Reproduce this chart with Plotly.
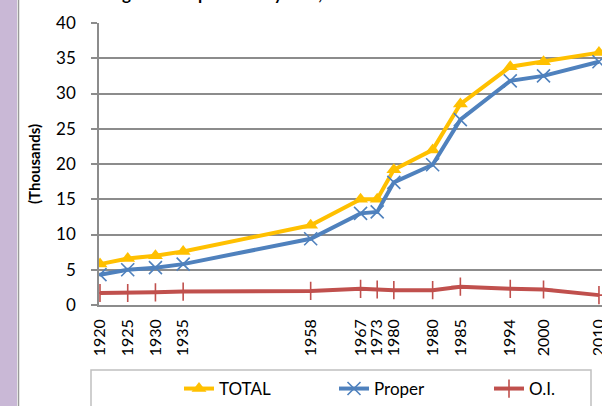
import plotly.graph_objects as go

# ---- data ----
x_years = [1920, 1925, 1930, 1935, 1958, 1967, 1970, 1973, 1980, 1985, 1994, 2000, 2010]
x_labels = ["1920", "1925", "1930", "1935", "1958", "1967", "1973", "1980", "1980", "1985", "1994", "2000", "2010"]
total = [5.8, 6.6, 7.0, 7.6, 11.3, 15.0, 15.0, 19.2, 22.0, 28.5, 33.8, 34.5, 35.8]
proper = [4.3, 5.0, 5.3, 5.8, 9.4, 13.0, 13.2, 17.4, 19.9, 26.3, 31.8, 32.5, 34.5]
oi = [1.7, 1.7, 1.8, 1.9, 2.0, 2.3, 2.2, 2.1, 2.1, 2.6, 2.3, 2.2, 1.4]
y_ticks = [0, 5, 10, 15, 20, 25, 30, 35, 40]

FONT = "Lato"
W, H = 602, 406
L, R, T, B = 99, 0, 23, 101
PW = W - L - R
PH = H - T - B


def px(xp):
    return (xp - L) / PW


def py(yp):
    return (H - B - yp) / PH


fig = go.Figure()
fig.add_trace(go.Scatter(
    x=x_years, y=total, name="TOTAL", mode="lines+markers",
    line=dict(color="#FFC000", width=4),
    marker=dict(symbol="triangle-up", size=13, color="#FFC000"),
))
fig.add_trace(go.Scatter(
    x=x_years, y=proper, name="Proper", mode="lines+markers",
    line=dict(color="#4F81BD", width=4),
    marker=dict(symbol="x-thin-open", size=13, color="#4F81BD",
                line=dict(width=1.6, color="#4F81BD")),
))
fig.add_trace(go.Scatter(
    x=x_years, y=oi, name="O.I.", mode="lines+markers",
    line=dict(color="#C0504D", width=4),
    marker=dict(symbol="cross-thin-open", size=13, color="#C0504D",
                line=dict(width=1.6, color="#C0504D")),
))

scale = 5.544  # px per year
x0 = 1920 - 1 / scale
x1 = x0 + PW / scale

fig.update_layout(
    width=W, height=H,
    margin=dict(l=L, r=R, t=T, b=B, autoexpand=False),
    paper_bgcolor="white", plot_bgcolor="white",
    font=dict(family=FONT, size=17, color="black"),
    showlegend=True,
    legend=dict(orientation="h", x=px(179), xanchor="left", y=py(371), yanchor="top",
                entrywidth=110, entrywidthmode="pixels",
                font=dict(family=FONT, size=17, color="black"),
                bgcolor="rgba(0,0,0,0)", borderwidth=0, traceorder="normal"),
    xaxis=dict(range=[x0, x1], tickvals=x_years, ticktext=x_labels, tickangle=-90,
               showgrid=False, zeroline=False, showline=True, linecolor="#8C8C8C",
               linewidth=1.5, ticks="", tickfont=dict(family=FONT, size=16),
               ticklabelstandoff=6, automargin=False, ticklabeloverflow="allow"),
    yaxis=dict(range=[0, 40], tickvals=y_ticks, showgrid=True, gridcolor="#8C8C8C",
               gridwidth=1.5, zeroline=False, showline=True, linecolor="#8C8C8C",
               linewidth=1.5, ticks="outside", ticklen=6, tickcolor="#8C8C8C",
               tickwidth=1.5, tickfont=dict(family=FONT, size=17),
               ticklabelstandoff=12, automargin=False,
               title=dict(text="<b>(Thousands)</b>", font=dict(family=FONT, size=15),
                          standoff=12)),
    shapes=[
        dict(type="rect", xref="paper", yref="paper", x0=px(0), x1=px(17), y0=py(0), y1=py(H),
             fillcolor="#C9B8D6", line=dict(width=0), layer="above"),
        dict(type="line", xref="paper", yref="paper", x0=px(18.5), x1=px(18.5), y0=py(0), y1=py(H),
             line=dict(color="#9A9A9A", width=1.5), layer="above"),
        dict(type="rect", xref="paper", yref="paper", x0=px(91), x1=px(591), y0=py(370), y1=py(415),
             fillcolor="rgba(0,0,0,0)", line=dict(color="#C0C0C0", width=1.5), layer="above"),
    ],
    annotations=[
        dict(text="<b>Figure 1: Population by Year, 1920-2010</b>", xref="paper", yref="paper",
             x=px(106), xanchor="left", y=py(6.5), yanchor="bottom", showarrow=False,
             font=dict(family=FONT, size=17, color="black")),
    ],
)

fig.write_html(
    "out.html",
    config={"displayModeBar": False},
    post_script="document.body.style.margin='0';document.body.style.overflow='hidden';",
)
